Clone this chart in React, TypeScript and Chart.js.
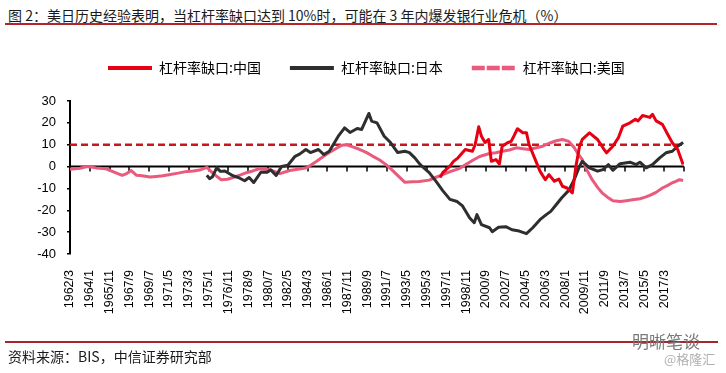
import React, { useEffect, useRef } from "react";
import { Chart, registerables } from "chart.js";

Chart.register(...registerables);

// ---------- data ----------
const xTickLabels = [
  "1962/3", "1964/1", "1965/11", "1967/9", "1969/7", "1971/5", "1973/3", "1975/1", "1976/11", "1978/9",
  "1980/7", "1982/5", "1984/3", "1986/1", "1987/11", "1989/9", "1991/7", "1993/5", "1995/3", "1997/1",
  "1998/11", "2000/9", "2002/7", "2004/5", "2006/3", "2008/1", "2009/11", "2011/9", "2013/7", "2015/5",
  "2017/3",
];
const axisStart = "1962/3";
const axisEnd = "2019/1";

const usDates = [
  "1962/3", "1963/2", "1963/10", "1964/8", "1965/7", "1966/4", "1967/1", "1967/6", "1967/11", "1968/5",
  "1968/11", "1969/8", "1970/3", "1970/10", "1971/5", "1972/3", "1973/1", "1973/8", "1974/3", "1974/11",
  "1975/5", "1975/11", "1976/3", "1976/10", "1977/4", "1977/11", "1978/7", "1979/2", "1979/9", "1980/8",
  "1981/2", "1981/8", "1982/7", "1983/4", "1984/2", "1985/1", "1985/8", "1986/3", "1986/11", "1987/5",
  "1987/10", "1988/5", "1989/1", "1989/8", "1990/3", "1990/11", "1991/6", "1991/12", "1992/6", "1993/3",
  "1993/11", "1994/7", "1995/6", "1996/1", "1996/9", "1997/6", "1998/4", "1998/11", "1999/6", "2000/2",
  "2001/1", "2001/8", "2002/3", "2002/11", "2003/7", "2004/2", "2004/9", "2005/4", "2005/12", "2006/9",
  "2007/3", "2007/10", "2008/5", "2008/11", "2009/3", "2009/8", "2010/1", "2010/7", "2011/1", "2011/6",
  "2011/12", "2012/6", "2013/2", "2013/9", "2014/4", "2014/12", "2015/6", "2015/11", "2016/6", "2017/1",
  "2017/7", "2017/12", "2018/4", "2018/8", "2018/12",
];
const usValues = [
  -1.2, -0.8, 0, -0.6, -1, -2.5, -4, -3.2, -1.8, -4,
  -4.2, -4.8, -4.5, -4.2, -3.7, -3, -2.2, -2, -1.6, -0.4,
  -2.8, -4.8, -6, -5.8, -5, -4, -2.8, -2, -1, -1.4,
  -2.2, -3.2, -1.8, -1.2, -0.5, 2.4, 4.5, 6.4, 8.4, 9.8,
  10, 9, 7.8, 6.5, 4.8, 3, 0.9, -1.3, -3.7, -7.2,
  -7, -6.8, -6.2, -5, -3.7, -2.2, -0.8, 1, 2.8, 4.6,
  6, 6.3, 7, 7.6, 8.6, 8.2, 7.8, 8.5, 9.3, 10.9,
  11.8, 12.4, 11.5, 8.7, 6, 3.2, -1.5, -6, -9.5, -12,
  -14, -15.6, -16, -15.6, -15.2, -14.7, -14, -13.2, -11.8, -9.8,
  -8.6, -7.4, -6.8, -6, -6.4,
];

const jpDates = [
  "1974/11", "1975/2", "1975/5", "1975/10", "1976/2", "1976/7", "1977/4", "1977/10", "1978/5", "1978/10",
  "1979/3", "1979/11", "1980/6", "1980/10", "1981/4", "1981/10", "1982/5", "1983/1", "1983/6", "1984/1",
  "1984/6", "1985/3", "1985/9", "1986/3", "1987/1", "1987/8", "1988/2", "1988/10", "1989/3", "1989/11",
  "1990/2", "1990/8", "1991/4", "1991/11", "1992/7", "1993/3", "1993/8", "1994/2", "1994/8", "1995/6",
  "1996/2", "1996/9", "1997/5", "1998/1", "1998/7", "1999/3", "1999/8", "1999/11", "2000/4", "2001/1",
  "2001/4", "2001/11", "2002/7", "2003/2", "2003/10", "2004/6", "2005/1", "2005/9", "2006/4", "2006/9",
  "2007/3", "2007/9", "2008/5", "2008/11", "2009/5", "2009/8", "2010/4", "2011/1", "2011/7", "2012/1",
  "2012/6", "2013/2", "2014/1", "2014/8", "2014/12", "2015/7", "2016/2", "2016/10", "2017/5", "2017/12",
  "2018/6", "2018/12",
];
const jpValues = [
  -4, -5.5, -4.8, -0.5, -2.2, -2, -4.2, -5, -6.5, -5,
  -7.3, -2.6, -2.6, -1.5, -4.1, 0, 0.6, 4.7, 5.7, 7.8,
  6.4, 7.8, 5.5, 7, 13.9, 17.7, 15.6, 17.4, 17, 24.3,
  20.8, 20, 13.9, 11, 6.4, 7, 6.4, 4, 0.9, -2.8,
  -7, -11, -15, -16, -18, -23.5, -25.7, -22, -26.6, -28,
  -29.8, -27.8, -27.5, -28.9, -29.5, -30.7, -28, -24.3, -22, -20.5,
  -17.5, -14.4, -10.9, -6, 0.2, 2.4, -0.6, -2.1, -1.4, 0.9,
  -1.7, 1.3, 2, 0.9, 2, -0.6, 0.9, 4, 6.3, 7,
  9.3, 11,
];

const cnDates = [
  "1996/6", "1996/9", "1997/5", "1997/9", "1998/2", "1998/10", "1999/6", "1999/9", "2000/1", "2000/4",
  "2000/8", "2000/12", "2001/3", "2001/8", "2001/12", "2002/3", "2002/9", "2003/1", "2003/4", "2003/8",
  "2004/2", "2004/6", "2004/9", "2005/3", "2005/9", "2006/3", "2006/7", "2007/1", "2007/6", "2007/10",
  "2008/3", "2008/9", "2009/1", "2009/5", "2009/8", "2010/4", "2011/1", "2011/7", "2011/11", "2012/6",
  "2012/12", "2013/5", "2014/1", "2014/7", "2014/10", "2015/3", "2015/11", "2016/2", "2016/6", "2017/1",
  "2017/7", "2017/12", "2018/6", "2018/12",
];
const cnValues = [
  -5, -2.8, 0.2, 2.4, 4, 7.8, 7, 10, 18.2, 13.9,
  11, 12.4, 2.4, 3.2, 1.2, 9.3, 10.9, 11.5, 13.9, 17.3,
  15.5, 15.5, 10, 4, -2.1, -6, -3.7, -6.7, -5.7, -9,
  -9.8, -12, 0.2, 9.3, 12.4, 15.4, 12.4, 8.6, 6.3, 9.3,
  13.1, 18.5, 20, 21.6, 20.9, 23.4, 22.5, 23.9, 20.9, 19.3,
  14.7, 10.9, 7.8, 0.9,
];

const threshold = 10;
const yMin = -40;
const yMax = 30;
const yStep = 10;

const seriesNames = ["杠杆率缺口:中国", "杠杆率缺口:日本", "杠杆率缺口:美国"];

// ---------- helpers ----------
const toMonth = (s: string) => {
  const [y, m] = s.split("/").map(Number);
  const [y0, m0] = axisStart.split("/").map(Number);
  return (y - y0) * 12 + (m - m0);
};
const pts = (dates: string[], vals: number[]) =>
  dates.map((d, i) => ({ x: toMonth(d), y: vals[i] }));

const tickLabelMap: Record<number, string> = {};
xTickLabels.forEach((l) => (tickLabelMap[toMonth(l)] = l));

const RED = "#E60012";
const BLACK = "#2E2E2E";
const PINK = "#EA5A7D";
const DASH_RED = "#C8161D";
const NUM_FONT = "'Liberation Sans', Arial, sans-serif";
const CJK_FONT = "'Noto Sans CJK SC', 'Noto Sans', sans-serif";
const LEGEND_START_X = 108;

const legendSpacer = {
  id: "legendSpacer",
  beforeInit(chart: any) {
    const legend = chart.legend;
    if (!legend) return;
    const origFit = legend.fit;
    legend.fit = function () {
      origFit.call(this);
      this.height += 16;
    };
  },
  afterLayout(chart: any) {
    const legend = chart.legend;
    if (!legend || !legend.lineWidths) return;
    const pad = legend.options.labels.padding;
    const start = (legend.left + pad + legend.right - legend.lineWidths[0]) / 2;
    const d = LEGEND_START_X - start;
    legend.left += d;
    legend.right += d;
  },
};

const zeroAxis = {
  id: "zeroAxis",
  beforeDatasetsDraw(chart: any) {
    const { ctx, scales } = chart;
    const x = scales.x;
    const y = scales.y;
    const y0 = y.getPixelForValue(0);
    ctx.save();
    ctx.strokeStyle = "#000";
    ctx.lineWidth = 2;
    ctx.beginPath();
    ctx.moveTo(x.left, y0);
    ctx.lineTo(x.right, y0);
    ctx.stroke();
    ctx.lineWidth = 1.5;
    ctx.beginPath();
    const vals = x.ticks.map((t: any) => t.value).concat([x.max]);
    vals.forEach((v: number) => {
      const px = Math.round(x.getPixelForValue(v));
      ctx.moveTo(px, y0);
      ctx.lineTo(px, y0 + 5);
    });
    ctx.stroke();
    ctx.restore();
  },
};

function LeverageChart() {
  const ref = useRef<HTMLCanvasElement | null>(null);
  useEffect(() => {
    if (!ref.current) return;
    const chart = new Chart(ref.current, {
      type: "line",
      data: {
        datasets: [
          { label: seriesNames[0], data: pts(cnDates, cnValues), borderColor: RED, borderWidth: 3 },
          { label: seriesNames[1], data: pts(jpDates, jpValues), borderColor: BLACK, borderWidth: 3 },
          { label: seriesNames[2], data: pts(usDates, usValues), borderColor: PINK, borderWidth: 3 },
          {
            label: "threshold",
            data: [
              { x: toMonth(axisStart), y: threshold },
              { x: toMonth(axisEnd), y: threshold },
            ],
            borderColor: DASH_RED,
            borderWidth: 2.5,
            borderDash: [7, 4],
          },
        ],
      },
      options: {
        responsive: false,
        animation: false,
        events: [],
        elements: {
          point: { radius: 0 },
          line: { tension: 0, borderJoinStyle: "round", fill: false },
        },
        layout: { padding: { left: 30, right: 42, top: 32, bottom: 0 } },
        plugins: {
          tooltip: { enabled: false },
          legend: {
            position: "top",
            align: "center",
            labels: {
              boxWidth: 44,
              boxHeight: 0,
              padding: 29,
              color: "#111",
              font: { family: CJK_FONT, size: 14 },
              generateLabels: () => [
                { text: seriesNames[0], fillStyle: "rgba(0,0,0,0)", strokeStyle: RED, lineWidth: 4, lineDash: [], hidden: false, datasetIndex: 0 },
                { text: seriesNames[1], fillStyle: "rgba(0,0,0,0)", strokeStyle: BLACK, lineWidth: 4, lineDash: [], hidden: false, datasetIndex: 1 },
                { text: seriesNames[2], fillStyle: "rgba(0,0,0,0)", strokeStyle: PINK, lineWidth: 4.5, lineDash: [10, 5], hidden: false, datasetIndex: 2 },
              ],
            },
          },
        },
        scales: {
          x: {
            type: "linear",
            min: toMonth(axisStart),
            max: toMonth(axisEnd),
            grid: { display: false },
            border: { display: false },
            afterBuildTicks: (scale: any) => {
              scale.ticks = xTickLabels.map((l) => ({ value: toMonth(l) }));
            },
            afterFit: (scale: any) => {
              scale.height = 119;
            },
            ticks: {
              autoSkip: false,
              minRotation: 90,
              maxRotation: 90,
              padding: 8,
              color: "#000",
              font: { family: NUM_FONT, size: 12.5 },
              callback: (v: any) => tickLabelMap[v] ?? "",
            },
          },
          y: {
            min: yMin,
            max: yMax,
            afterFit: (scale: any) => {
              scale.width = 40;
            },
            ticks: {
              stepSize: yStep,
              padding: 11,
              color: "#000",
              font: { family: NUM_FONT, size: 13 },
            },
            grid: {
              drawOnChartArea: false,
              drawTicks: true,
              tickLength: 3,
              color: "#000",
              lineWidth: 1.5,
            },
            border: { display: true, color: "#000", width: 2 },
          },
        },
      },
      plugins: [legendSpacer, zeroAxis],
    } as any);
    return () => chart.destroy();
  }, []);
  return <canvas ref={ref} width={726} height={373} style={{ position: "absolute", left: 0, top: 0 }} />;
}

export default function App() {
  return (
    <div
      style={{
        position: "fixed",
        left: 0,
        top: 0,
        width: 726,
        height: 373,
        background: "#fff",
        overflow: "hidden",
        fontFamily: CJK_FONT,
      }}
    >
      <div
        style={{
          position: "absolute",
          left: 8,
          top: 6,
          fontSize: 14,
          lineHeight: "18px",
          color: "#1a1a1a",
          whiteSpace: "nowrap",
        }}
      >
        图 2：美日历史经验表明，当杠杆率缺口达到 10%时，可能在 3 年内爆发银行业危机（%）
      </div>
      <div style={{ position: "absolute", left: 5, top: 23, width: 712, height: 1.5, background: "#B3242B" }} />
      <LeverageChart />
      <div style={{ position: "absolute", left: 5, top: 341, width: 713, height: 1.5, background: "#A8232A" }} />
      <div
        style={{
          position: "absolute",
          left: 8,
          top: 347,
          fontSize: 14,
          lineHeight: "18px",
          color: "#1a1a1a",
          whiteSpace: "nowrap",
        }}
      >
        资料来源：BIS，中信证券研究部
      </div>
      <div
        style={{
          position: "absolute",
          left: 632,
          top: 331,
          fontSize: 17,
          lineHeight: "20px",
          color: "#7a7a7a",
          whiteSpace: "nowrap",
        }}
      >
        明晰笔谈
      </div>
      <div
        style={{
          position: "absolute",
          left: 664,
          top: 351,
          fontSize: 13,
          lineHeight: "16px",
          color: "#b0b0b0",
          whiteSpace: "nowrap",
        }}
      >
        @格隆汇
      </div>
    </div>
  );
}
